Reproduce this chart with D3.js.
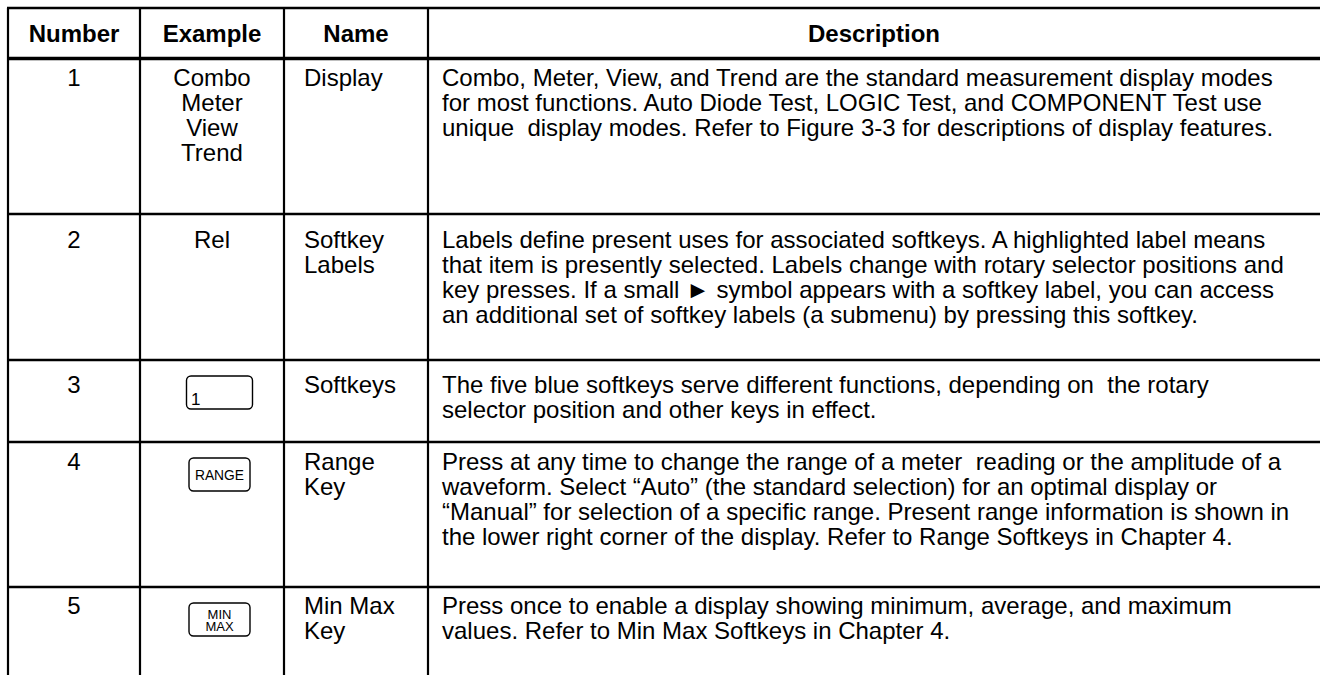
<!DOCTYPE html>
<html>
<head>
<meta charset="utf-8">
<script src="https://cdn.jsdelivr.net/npm/d3@7"></script>
<style>
  html, body { margin: 0; padding: 0; background: #fff; }
  svg { display: block; }
  text { font-family: "Liberation Sans", Arial, Helvetica, sans-serif; fill: #000; white-space: pre; }
</style>
</head>
<body>
<svg id="chart" width="1320" height="675"></svg>
<script>
// ---- data ----
const headers = ["Number", "Example", "Name", "Description"];
const numbers = ["1", "2", "3", "4", "5"];
const exampleTexts = [["Combo", "Meter", "View", "Trend"], ["Rel"], [], [], []];
const exampleKeys = [null, null, ["1"], ["RANGE"], ["MIN", "MAX"]];
const names = [["Display"], ["Softkey", "Labels"], ["Softkeys"], ["Range", "Key"], ["Min Max", "Key"]];
const descriptions = [
  ["Combo, Meter, View, and Trend are the standard measurement display modes",
   "for most functions. Auto Diode Test, LOGIC Test, and COMPONENT Test use",
   "unique  display modes. Refer to Figure 3-3 for descriptions of display features."],
  ["Labels define present uses for associated softkeys. A highlighted label means",
   "that item is presently selected. Labels change with rotary selector positions and",
   "key presses. If a small \u25BA symbol appears with a softkey label, you can access",
   "an additional set of softkey labels (a submenu) by pressing this softkey."],
  ["The five blue softkeys serve different functions, depending on  the rotary",
   "selector position and other keys in effect."],
  ["Press at any time to change the range of a meter  reading or the amplitude of a",
   "waveform. Select \u201CAuto\u201D (the standard selection) for an optimal display or",
   "\u201CManual\u201D for selection of a specific range. Present range information is shown in",
   "the lower right corner of the display. Refer to Range Softkeys in Chapter 4."],
  ["Press once to enable a display showing minimum, average, and maximum",
   "values. Refer to Min Max Softkeys in Chapter 4."]
];

// ---- layout ----
const colEdges = [8, 140, 284, 428, 1322];
const rowEdges = [8, 58.5, 214, 360, 442, 587, 720];
const rowTextOffset = [27, 34, 33, 27.5, 26.5];
const fontSize = 24;
const lineH = 25;

const svg = d3.select("#chart");
const colX = i => colEdges[i];
const rowY = i => rowEdges[i];

// header
svg.append("g").selectAll("text").data(headers).join("text")
  .attr("x", (d, i) => (colX(i) + Math.min(colX(i + 1), 1320)) / 2)
  .attr("y", (rowY(0) + rowY(1)) / 2 + fontSize * 0.35)
  .attr("text-anchor", "middle")
  .attr("font-weight", "bold")
  .attr("font-size", fontSize)
  .text(d => d);

const rows = svg.append("g").selectAll("g").data(numbers).join("g")
  .attr("transform", (d, i) => `translate(0,${rowY(i + 1)})`);

rows.append("text")
  .attr("x", (colX(0) + colX(1)) / 2)
  .attr("y", (d, i) => rowTextOffset[i])
  .attr("text-anchor", "middle")
  .attr("font-size", fontSize)
  .text(d => d);

rows.each(function (d, i) {
  const g = d3.select(this);
  const base = rowTextOffset[i];
  g.selectAll("text.ex").data(exampleTexts[i]).join("text")
    .attr("class", "ex")
    .attr("x", (colX(1) + colX(2)) / 2)
    .attr("y", (t, j) => base + j * lineH)
    .attr("text-anchor", "middle")
    .attr("font-size", fontSize)
    .text(t => t);

  const key = exampleKeys[i];
  if (key) {
    const cx = (colX(1) + colX(2)) / 2;
    const wide = key[0] === "1";
    const w = wide ? 66 : 61, h = 33;
    const left = wide ? cx - 25.5 : cx - 23;
    const kg = g.append("g").attr("transform", `translate(${left},16)`);
    kg.append("rect").attr("width", w).attr("height", h).attr("rx", 4.5)
      .attr("fill", "#fff").attr("stroke", "#000").attr("stroke-width", 1.4);
    if (wide) {
      kg.append("text").attr("x", 4.5).attr("y", h - 4.5).attr("font-size", 17).text(key[0]);
    } else if (key.length === 1) {
      kg.append("text").attr("x", w / 2).attr("y", h / 2 + 5).attr("text-anchor", "middle")
        .attr("font-size", 13.8).text(key[0]);
    } else {
      kg.selectAll("text").data(key).join("text")
        .attr("x", w / 2).attr("y", (t, j) => 15.5 + j * 12.5)
        .attr("text-anchor", "middle").attr("font-size", 13).text(t => t);
    }
  }

  g.selectAll("text.nm").data(names[i]).join("text")
    .attr("class", "nm")
    .attr("x", colX(2) + 20)
    .attr("y", (t, j) => base + j * lineH)
    .attr("font-size", fontSize)
    .text(t => t);

  g.selectAll("text.ds").data(descriptions[i]).join("text")
    .attr("class", "ds")
    .attr("x", colX(3) + 14)
    .attr("y", (t, j) => base + j * lineH)
    .attr("font-size", fontSize)
    .text(t => t);
});

// grid lines
const grid = svg.append("g").attr("stroke", "#000").attr("fill", "none");
colEdges.forEach(cx => {
  grid.append("line").attr("x1", cx).attr("x2", cx).attr("y1", rowEdges[0]).attr("y2", 720)
    .attr("stroke-width", 2.2);
});
rowEdges.slice(0, -1).forEach((ry, i) => {
  grid.append("line").attr("x1", colEdges[0] - 1).attr("x2", 1322).attr("y1", ry).attr("y2", ry)
    .attr("stroke-width", i === 1 ? 3.6 : 2.4);
});
</script>
</body>
</html>
